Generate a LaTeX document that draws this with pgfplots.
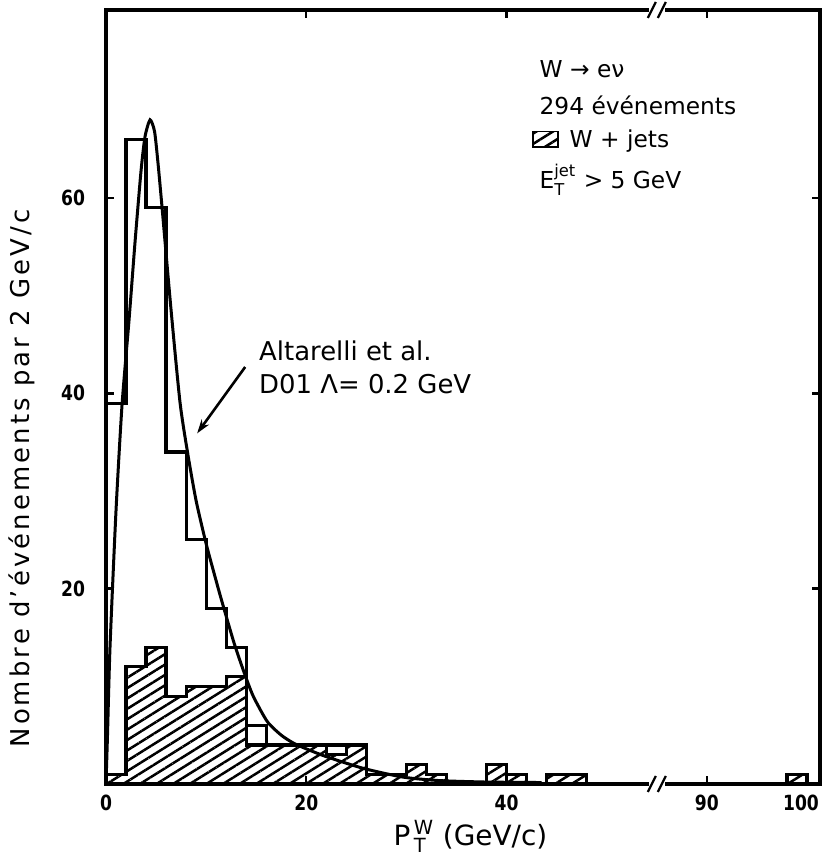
\documentclass[border=0pt]{standalone}
\usepackage{pgfplots}
\pgfplotsset{compat=1.18}
\usepackage{fontspec}
\setmainfont{DejaVu Sans}
\newfontfamily\tickfont[FakeStretch=0.82]{DejaVu Sans}
\usetikzlibrary{patterns.meta,arrows.meta}

% hatching used for the W + jets events
\tikzset{wjets/.style={pattern={Lines[angle=32,distance=4.4bp,line width=1.25bp]}}}

\begin{document}
\begin{tikzpicture}
\useasboundingbox (-53bp,-38.5bp) rectangle (359bp,392bp);
\begin{axis}[
  scale only axis, width=357bp, height=387bp,
  xmin=0, xmax=71.3, ymin=0, ymax=79.25,
  axis line style={line width=1.7bp},
  tick align=inside, major tick length=4bp,
  tick style={line width=1.2bp, black},
  xtick={0,20,40,60}, xticklabels={0,20,40,90},
  extra x ticks={70}, extra x tick labels={100},
  extra x tick style={major tick length=0pt, xticklabel style={xshift=-3bp}},
  ytick={20,40,60},
  /pgf/number format/assume math mode=true,
  tick label style={font=\tickfont\bfseries\fontsize{10.5}{12}\selectfont},
  yticklabel style={xshift=-7bp},
  xticklabel style={yshift=-2bp},
  clip=false,
]
% W + jets events per 2 GeV/c bin (left edges)
\addplot[const plot, draw=black, line width=1.6bp, wjets] coordinates {
  (0,1) (2,12) (4,14) (6,9) (8,10) (10,10) (12,11) (14,4) (16,4) (18,4)
  (20,4) (22,3) (24,4) (26,1) (28,1) (30,2) (32,1) (34,0) (36,0) (38,2)
  (40,1) (42,0) (44,1) (46,1) (48,0)} \closedcycle;
% same, beyond the break (shifted by 30 GeV/c on the axis)
\addplot[const plot, draw=black, line width=1.6bp, wjets, x filter/.expression={x-30}]
  coordinates {(98,1) (100,0)} \closedcycle;
% all 294 W -> e nu events per 2 GeV/c bin
\addplot[const plot, draw=black, line width=1.6bp] coordinates {
  (0,39) (2,66) (4,59) (6,34) (8,25) (10,18) (12,14) (14,6) (16,4) (18,4)
  (20,4) (22,4) (24,4) (26,1) (28,1) (30,2) (32,1) (34,0) (36,0) (38,2)
  (40,1) (42,0) (44,1) (46,1) (48,0)};
% QCD prediction (Altarelli et al., DO1, Lambda = 0.2 GeV)
\addplot[smooth, tension=0.4, line width=1.5bp, black] coordinates {
  (0,0) (0.15,5) (0.4,14) (1.0,28) (1.6,38.8) (2.3,47.5) (2.9,55.5) (3.5,62.8)
  (3.9,66.3) (4.4,68) (4.85,66.8) (5.2,63.5) (5.6,59) (6.5,48.5) (7.4,39)
  (8.2,33.6) (9.0,29.0) (10,24.6) (11,20.8) (11.6,18.6) (12.8,14.4) (13.8,11.4)
  (14.7,9.0) (16.1,6.4) (17.5,5.0) (18.7,4.2) (20,3.6) (22,2.8) (25.7,1.6)
  (29.7,0.7) (33.3,0.35) (38,0.2) (43.5,0.15)};

\node[anchor=base west, font=\fontsize{13}{15}\selectfont] at (axis cs:14.6,43.4) {Altarelli et al.};
\node[anchor=base west, font=\fontsize{13}{15}\selectfont] at (axis cs:14.6,40.0) {D01 Λ= 0.2 GeV};
\draw[line width=1.3bp, -{Stealth[length=7bp,width=4.5bp]}] (axis cs:13.9,42.7) -- (axis cs:9.1,35.9);

\node[anchor=base west, font=\fontsize{11.7}{14}\selectfont] at (axis cs:42.6,72.3) {W → eν};
\node[anchor=base west, font=\fontsize{11.7}{14}\selectfont] at (axis cs:42.6,68.5) {294 événements};
\draw[line width=0.9bp, wjets] (axis cs:42.6,65.2) rectangle (axis cs:45.1,66.8);
\node[anchor=base west, font=\fontsize{11.7}{14}\selectfont] at (axis cs:45.6,65.2) {W + jets};
\node[anchor=base west, font=\fontsize{11.7}{14}\selectfont] at (axis cs:42.6,61.0) {E$_{\mathrm{T}}^{\mathrm{jet}}$ > 5 GeV};

\node[rotate=90, anchor=center, font=\fontsize{13}{15}\selectfont\addfontfeature{LetterSpace=12}] at (axis cs:-8.4,31.3) {Nombre d'événements par 2 GeV/c};
\node[anchor=base, font=\fontsize{14}{16}\selectfont] at (axis cs:36.4,-6.25) {P$^{\,\mathrm{W}}_{\,\mathrm{T}}$ (GeV/c)};

\coordinate (bb) at (axis cs:55,0);
\coordinate (bt) at (axis cs:55,79.25);
\end{axis}
% broken horizontal scale
\foreach \p in {bb,bt}{
  \fill[white] ([xshift=-4bp,yshift=-1.5bp]\p) rectangle ([xshift=4bp,yshift=1.5bp]\p);
  \draw[line width=1.1bp] ([xshift=-4.5bp,yshift=-4bp]\p) -- ([xshift=-0.5bp,yshift=4bp]\p);
  \draw[line width=1.1bp] ([xshift=0.5bp,yshift=-4bp]\p) -- ([xshift=4.5bp,yshift=4bp]\p);
}
\end{tikzpicture}
\end{document}
